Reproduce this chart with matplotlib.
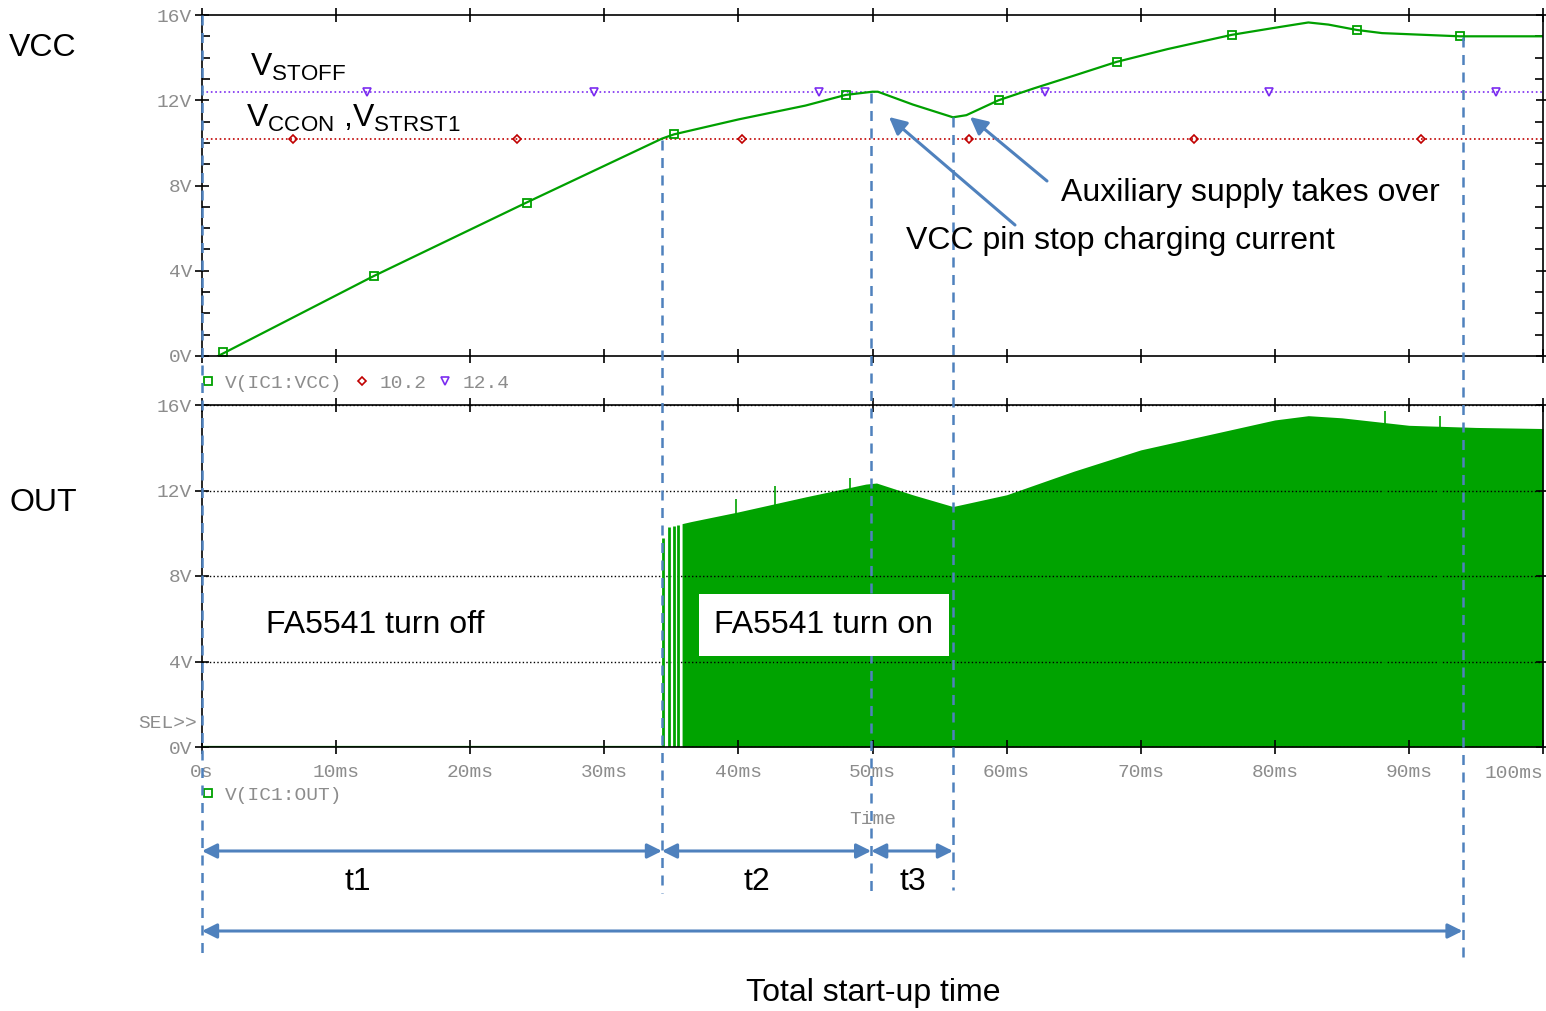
import matplotlib
matplotlib.use("Agg")
import matplotlib.pyplot as plt
from matplotlib.lines import Line2D
from matplotlib.ticker import FuncFormatter, MultipleLocator

# VCC trace (ms, V)
t_vcc = [1.2, 12.8, 24.2, 34.3, 35.2, 40.0, 45.0, 48.0, 50.0, 50.4, 53.0, 56.0,
         57.0, 59.4, 62.0, 65.0, 68.2, 72.0, 76.8, 80.0, 82.5, 84.0, 86.1, 88.0,
         93.8, 100.0]
v_vcc = [0.0, 3.75, 7.2, 10.2, 10.4, 11.1, 11.75, 12.25, 12.4, 12.4, 11.8, 11.2,
         11.3, 12.0, 12.55, 13.15, 13.8, 14.4, 15.07, 15.4, 15.65, 15.55, 15.3, 15.15,
         15.0, 15.0]
# square markers on the VCC trace
t_vcc_mk = [1.6, 12.8, 24.2, 35.2, 48.0, 59.4, 68.2, 76.8, 86.1, 93.8]
v_vcc_mk = [0.2, 3.75, 7.2, 10.4, 12.25, 12.0, 13.8, 15.07, 15.3, 15.0]

# threshold levels
v_ccon = 10.2
v_stoff = 12.4
t_ccon_mk = [6.8, 23.5, 40.3, 57.2, 74.0, 90.9]
t_stoff_mk = [12.3, 29.2, 46.0, 62.9, 79.6, 96.5]

# OUT envelope (switching, drawn as filled area)
t_out = [35.8, 36.5, 40.0, 45.0, 49.5, 50.3, 53.0, 56.0, 60.0, 65.0, 70.0, 75.0,
         80.0, 82.5, 85.0, 90.0, 95.0, 100.0]
v_out = [10.45, 10.55, 11.0, 11.7, 12.3, 12.35, 11.8, 11.25, 11.8, 12.9, 13.9, 14.6,
         15.3, 15.5, 15.4, 15.05, 14.95, 14.9]
t_first_pulses = [34.35, 34.8, 35.2, 35.5]
v_first_pulses = [9.8, 10.3, 10.35, 10.4]
t_spikes = [39.8, 42.7, 48.3, 88.2, 92.3]
v_spikes = [11.6, 12.2, 12.6, 15.7, 15.5]

# start-up phase boundaries (ms)
t_events = [0.0, 34.3, 49.9, 56.0, 94.0]
phase_names = ["t1", "t2", "t3"]
phase_label_t = [11.6, 41.4, 53.0]

W, H = 1546, 1011
GREEN = "#00a000"
BLUE = "#4f81bd"
GRAY = "#8c8c8c"
plt.rcParams["font.family"] = ["Liberation Sans", "DejaVu Sans"]
plt.rcParams["mathtext.fontset"] = "custom"
plt.rcParams["mathtext.rm"] = "Liberation Sans"
MONO = "Liberation Mono"

fig = plt.figure(figsize=(W / 100, H / 100), dpi=100)
x0, x1 = 202, 1543


def ax_rect(ytop, ybot):
    return [x0 / W, 1 - ybot / H, (x1 - x0) / W, (ybot - ytop) / H]


ax_top = fig.add_axes(ax_rect(15, 356))
ax_bot = fig.add_axes(ax_rect(405, 747))

volt_fmt = FuncFormatter(lambda v, p: f"{v:.0f}V")
# the 100ms label is right-aligned at the axis end, drawn separately below
time_fmt = FuncFormatter(lambda v, p: "0s" if v == 0 else ("" if v >= 100 else f"{v:.0f}ms"))

for ax in (ax_top, ax_bot):
    ax.set_xlim(0, 100)
    ax.set_ylim(0, 16)
    ax.xaxis.set_major_locator(MultipleLocator(10))
    ax.yaxis.set_major_locator(MultipleLocator(4))
    ax.yaxis.set_major_formatter(volt_fmt)
    ax.xaxis.set_major_formatter(time_fmt)
    ax.tick_params(which="major", direction="inout", length=10, width=1.2,
                   top=True, right=True, labelsize=14, labelcolor=GRAY, pad=2)
    ax.tick_params(axis="x", pad=7)
    for lab in ax.get_xticklabels() + ax.get_yticklabels():
        lab.set_fontfamily(MONO)
    for s in ax.spines.values():
        s.set_linewidth(1.2)

ax_bot.text(1.0, -26 / 342, "100ms", transform=ax_bot.transAxes, ha="right",
            va="center", fontfamily=MONO, fontsize=14, color=GRAY)

ax_top.yaxis.set_minor_locator(MultipleLocator(1))
ax_top.tick_params(which="minor", direction="in", length=6, width=1.2, left=True, right=True)
ax_top.tick_params(labelbottom=False)

# top panel: VCC
ax_top.axhline(v_stoff, color="#7b2cf0", ls=":", lw=1.2)
ax_top.axhline(v_ccon, color="#c00000", ls=":", lw=1.2)
ax_top.plot(t_stoff_mk, [v_stoff] * len(t_stoff_mk), ls="none", marker="v",
            mfc="none", mec="#7b2cf0", ms=6, mew=1.2)
ax_top.plot(t_ccon_mk, [v_ccon] * len(t_ccon_mk), ls="none", marker="D",
            mfc="none", mec="#c00000", ms=4.5, mew=1.2)
ax_top.plot(t_vcc, v_vcc, color=GREEN, lw=1.6)
ax_top.plot(t_vcc_mk, v_vcc_mk, ls="none", marker="s", mfc="none", mec=GREEN, ms=6, mew=1.3)

h_vcc = Line2D([], [], ls="none", marker="s", mfc="none", mec=GREEN, ms=6, mew=1.3)
h_ccon = Line2D([], [], ls="none", marker="D", mfc="none", mec="#c00000", ms=4.5, mew=1.2)
h_stoff = Line2D([], [], ls="none", marker="v", mfc="none", mec="#7b2cf0", ms=6, mew=1.2)
leg = ax_top.legend([h_vcc, h_ccon, h_stoff], ["V(IC1:VCC)", "10.2", "12.4"],
                    loc="upper left", bbox_to_anchor=(0.0, -0.053), ncol=3,
                    frameon=False, handlelength=0.6, handletextpad=0.6,
                    columnspacing=0.68, borderaxespad=0, borderpad=0,
                    prop={"family": MONO, "size": 14})
for txt in leg.get_texts():
    txt.set_color(GRAY)

# bottom panel: OUT
ax_bot.grid(axis="y", ls=":", color="k", lw=1)
ax_bot.plot([0, 34.3], [0, 0], color=GREEN, lw=1.6)
ax_bot.fill_between(t_out, 0, v_out, color="#00a300", lw=0)
ax_bot.vlines(t_first_pulses, 0, v_first_pulses, color="#00a300", lw=2)
ax_bot.vlines(t_spikes, 0, v_spikes, color="#00a300", lw=1.2)
ax_bot.text(-0.004, 24 / 342, "SEL>>", transform=ax_bot.transAxes, ha="right",
            va="center", fontfamily=MONO, fontsize=14, color=GRAY)
ax_bot.text(0.5, -73 / 342, "Time", transform=ax_bot.transAxes, ha="center",
            va="center", fontfamily=MONO, fontsize=14, color=GRAY)
h_out = Line2D([], [], ls="none", marker="s", mfc="none", mec=GREEN, ms=6, mew=1.3)
leg2 = ax_bot.legend([h_out], ["V(IC1:OUT)"], loc="upper left",
                     bbox_to_anchor=(0.0, -0.115), frameon=False,
                     handlelength=0.6, handletextpad=0.6, borderaxespad=0,
                     borderpad=0, prop={"family": MONO, "size": 14})
for txt in leg2.get_texts():
    txt.set_color(GRAY)

# overlay in (ms, pixel-from-top) coordinates for the dashed markers and arrows
ms_per_px = 100 / (x1 - x0)
ov = fig.add_axes([0, 0, 1, 1], zorder=5)
ov.set_xlim(-x0 * ms_per_px, (W - x0) * ms_per_px)
ov.set_ylim(H, 0)
ov.axis("off")
ov.patch.set_alpha(0)

ev_top = [15, 140, 93, 117, 37]
ev_bot = [960, 893, 897, 890, 958]
for t, ya, yb in zip(t_events, ev_top, ev_bot):
    ov.plot([t, t], [ya, yb], color=BLUE, lw=1.8, ls=(0, (4, 3)))

arrow_kw = dict(arrowstyle="<|-|>", color=BLUE, lw=2.2, mutation_scale=22,
                shrinkA=0, shrinkB=0)
for i, name in enumerate(phase_names):
    ov.annotate("", xy=(t_events[i], 851), xytext=(t_events[i + 1], 851),
                arrowprops=arrow_kw)
ov.annotate("", xy=(t_events[0], 931), xytext=(t_events[-1], 931), arrowprops=arrow_kw)

ptr_kw = dict(arrowstyle="-|>", color=BLUE, lw=2.2, mutation_scale=26,
              shrinkA=0, shrinkB=0)
ov.annotate("", xy=((970 - x0) * ms_per_px, 117), xytext=((1047 - x0) * ms_per_px, 181),
            arrowprops=ptr_kw)
ov.annotate("", xy=((889 - x0) * ms_per_px, 117), xytext=((1015 - x0) * ms_per_px, 225),
            arrowprops=ptr_kw)


def ftext(x, y, s, **kw):
    kw.setdefault("fontsize", 23)
    kw.setdefault("ha", "center")
    kw.setdefault("va", "center")
    fig.text(x / W, 1 - y / H, s, zorder=10, **kw)


ftext(43, 48, "VCC")
ftext(43, 503, "OUT")
ftext(250, 67, r"V$_{\rm STOFF}$", ha="left")
ftext(246, 118, r"V$_{\rm CCON}$ ,V$_{\rm STRST1}$", ha="left")
ftext(1250, 193, "Auxiliary supply takes over")
ftext(1120, 241, "VCC pin stop charging current")
ftext(375, 625, "FA5541 turn off")
ftext(824, 625, "FA5541 turn on",
      bbox=dict(boxstyle="square,pad=0.5", fc="white", ec="none"))
for name, tl in zip(phase_names, phase_label_t):
    ftext(x0 + tl / ms_per_px, 882, name)
ftext(873, 993, "Total start-up time")

fig.savefig("out.png", dpi=100)
